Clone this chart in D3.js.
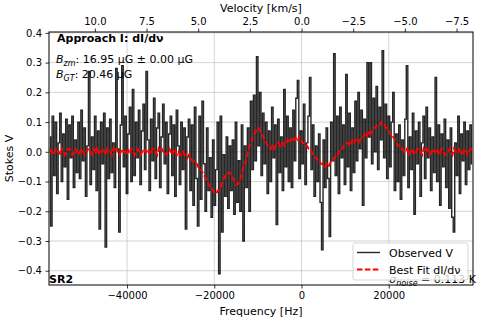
<!DOCTYPE html>
<html>
<head>
<meta charset="utf-8">
<script src="https://cdn.jsdelivr.net/npm/d3@7"></script>
<style>
body{margin:0;background:#fff;}
text{font-family:"DejaVu Sans",sans-serif;}
</style>
</head>
<body>
<div id="plot"></div>
<script>
//Set Height and Width Vars;
const w=479;
const h=320;
const margin={top:32,right:6,bottom:35,left:49};

//Channel Grid (Hz);
const freqStart=-57700;
const freqStep=347;

//Observed Stokes V per channel;
const obsV=[
 0.05,-0.25,0.12,-0.08,0.10,-0.14,0.03,0.13,-0.10,0.06,-0.05,0.11,-0.16,0.09,-0.02,0.12,-0.12,0.04,-0.07,0.10,
 -0.09,0.14,-0.03,0.08,-0.15,0.02,0.27,-0.11,0.05,-0.06,0.12,-0.13,0.07,-0.26,0.10,-0.04,0.13,-0.32,0.08,-0.09,
 0.11,-0.07,0.03,-0.12,0.28,0.01,-0.27,0.09,0.29,-0.05,0.12,-0.14,0.06,0.15,-0.10,0.21,-0.08,0.10,-0.02,0.14,
 -0.11,0.07,0.16,-0.06,0.27,0.04,-0.13,0.11,-0.03,0.18,-0.09,0.08,0.13,-0.12,0.05,0.16,-0.04,0.10,-0.14,0.06,
 0.12,-0.08,0.09,-0.15,0.14,0.02,-0.11,0.10,-0.06,0.08,-0.26,0.05,0.11,-0.13,0.09,-0.18,0.15,-0.09,-0.25,0.12,
 -0.16,0.17,-0.04,-0.20,0.08,-0.13,-0.02,-0.22,0.04,-0.18,-0.06,0.10,-0.41,0.12,-0.27,-0.01,-0.15,0.05,-0.19,0.02,
 -0.13,0.04,-0.21,0.10,-0.17,-0.03,-0.20,0.09,-0.30,0.02,-0.12,0.08,-0.20,0.17,-0.06,0.19,-0.03,0.32,0.02,0.20,
 -0.08,0.13,-0.04,0.10,-0.14,0.07,-0.10,0.15,-0.02,0.09,-0.245,0.11,-0.07,0.05,-0.13,0.21,-0.05,0.12,-0.10,0.08,
 -0.12,0.14,-0.03,0.18,0.24,-0.09,0.07,-0.04,0.16,-0.11,0.03,0.12,0.25,-0.06,0.09,-0.15,0.02,-0.10,0.06,-0.17,
 -0.33,0.04,-0.12,0.08,-0.09,-0.285,0.10,-0.03,0.33,-0.08,0.12,-0.14,0.15,-0.02,0.09,-0.11,0.26,-0.05,0.13,-0.13,
 0.08,-0.07,0.17,-0.03,0.20,0.01,0.14,-0.18,0.11,-0.02,0.30,0.05,0.30,-0.04,0.18,0.00,0.22,-0.06,0.15,0.04,
 0.34,-0.02,0.16,-0.09,0.12,-0.05,0.10,0.20,-0.13,0.06,-0.10,0.09,-0.16,0.04,-0.08,0.11,0.29,-0.12,0.05,-0.06,
 0.13,-0.21,0.07,-0.04,0.10,-0.15,0.03,0.12,-0.09,0.15,-0.02,0.08,-0.13,0.05,-0.07,0.25,-0.10,0.09,-0.18,0.06,
 -0.05,0.11,-0.12,0.04,-0.19,0.08,-0.22,-0.27,0.03,-0.08,0.12,-0.14,0.06,-0.03,0.10,-0.11,0.07,-0.06,0.09,-0.04
];

//Best Fit dI/dv per channel;
const fitV=[
 0.01,0.00,-0.01,0.00,0.01,0.00,0.00,-0.01,0.01,0.00,-0.01,0.00,0.01,0.01,0.00,-0.01,0.00,0.01,0.00,-0.01,
 0.00,0.01,0.00,-0.01,0.00,0.01,0.00,0.00,-0.01,0.01,0.00,0.01,-0.01,0.00,0.00,0.01,0.00,-0.01,0.01,0.00,
 0.00,-0.01,0.01,0.00,0.01,0.00,-0.01,0.00,0.01,0.00,0.00,-0.01,0.01,0.00,0.01,0.00,-0.01,0.00,0.01,0.00,
 -0.01,0.00,0.01,0.00,0.00,0.01,-0.01,0.00,0.01,0.00,0.00,-0.01,0.01,0.00,0.01,0.00,0.00,-0.01,0.00,0.01,
 0.00,-0.01,0.01,0.00,-0.01,0.00,-0.01,-0.01,0.00,-0.01,-0.01,-0.02,-0.01,-0.02,-0.03,-0.03,-0.04,-0.04,-0.05,-0.06,
 -0.06,-0.07,-0.08,-0.09,-0.10,-0.11,-0.12,-0.12,-0.13,-0.14,-0.14,-0.13,-0.13,-0.12,-0.10,-0.09,-0.08,-0.08,-0.07,-0.07,
 -0.08,-0.09,-0.10,-0.11,-0.11,-0.10,-0.09,-0.07,-0.05,-0.04,-0.02,0.00,0.02,0.03,0.05,0.06,0.07,0.08,0.08,0.07,
 0.06,0.05,0.04,0.03,0.02,0.02,0.01,0.02,0.01,0.02,0.02,0.03,0.02,0.03,0.03,0.02,0.03,0.04,0.03,0.04,
 0.04,0.05,0.04,0.05,0.04,0.05,0.04,0.03,0.03,0.02,0.02,0.01,0.01,0.00,-0.01,-0.02,-0.02,-0.03,-0.03,-0.04,
 -0.04,-0.05,-0.05,-0.04,-0.05,-0.04,-0.03,-0.03,-0.02,-0.01,-0.01,0.00,0.01,0.01,0.02,0.02,0.03,0.03,0.02,0.03,
 0.04,0.03,0.04,0.04,0.03,0.04,0.05,0.05,0.06,0.05,0.06,0.07,0.06,0.07,0.08,0.08,0.09,0.09,0.09,0.10,
 0.09,0.09,0.08,0.08,0.07,0.06,0.05,0.05,0.04,0.03,0.02,0.02,0.01,0.01,0.00,0.00,0.01,-0.01,0.00,0.01,
 0.00,-0.01,0.00,0.01,0.00,0.00,-0.01,0.01,0.00,0.01,0.00,-0.01,0.00,0.01,0.00,0.00,0.01,-0.01,0.00,0.01,
 0.00,-0.01,0.00,0.00,0.01,0.00,-0.01,0.01,0.00,0.00,0.01,0.00,-0.01,0.00,0.01,0.00,-0.01,0.00,0.01,0.00
];

//Axis Limits and Ticks;
const freqDomain=[-57890,39310];
const vDomain=[-0.448,0.403];
const yTicks=[0.4,0.3,0.2,0.1,0.0,-0.1,-0.2,-0.3,-0.4];
const freqTicks=[-40000,-20000,0,20000];
const velTicks=[10,7.5,5,2.5,0,-2.5,-5,-7.5];

//HI rest frequency (Hz) and speed of light (km/s);
const restFreq=1420405751.77;
const cLight=299792.458;

//Text;
const titleText="Approach I: dI/dν";
const bzmText=": 16.95 μG ± 0.00 μG";
const bgtText=": 20.46 μG";
const regionText="SR2";
const noiseText=" = 0.113 K";
const legendLabels=["Observed V","Best Fit dI/dν"];

//Build Channel Data;
const obsData=obsV.map(function(v,i){return {f:freqStart+i*freqStep,v:v};});
const fitData=fitV.map(function(v,i){return {f:freqStart+i*freqStep,v:v};});

//Initialize SVG;
const svg=d3.select("#plot")
  .append("svg")
    .attr("width",w)
    .attr("height",h);

//Set Scales;
const xScale=d3.scaleLinear()
  .domain(freqDomain)
  .range([margin.left,w-margin.right]);

const velScale=d3.scaleLinear()
  .domain(freqDomain.map(function(f){return -f/restFreq*cLight;}))
  .range([margin.left,w-margin.right]);

const yScale=d3.scaleLinear()
  .domain(vDomain)
  .range([h-margin.bottom,margin.top]);

//Grid;
const grid=svg.append("g").attr("class","grid");
grid.selectAll(".gy")
  .data(yTicks)
  .enter()
  .append("line")
    .attr("x1",margin.left).attr("x2",w-margin.right)
    .attr("y1",function(d){return yScale(d);})
    .attr("y2",function(d){return yScale(d);})
    .attr("stroke","#b0b0b0").attr("stroke-opacity",0.55).attr("stroke-width",1);
grid.selectAll(".gx")
  .data(freqTicks)
  .enter()
  .append("line")
    .attr("y1",margin.top).attr("y2",h-margin.bottom)
    .attr("x1",function(d){return xScale(d);})
    .attr("x2",function(d){return xScale(d);})
    .attr("stroke","#b0b0b0").attr("stroke-opacity",0.55).attr("stroke-width",1);

//Clip;
svg.append("clipPath").attr("id","clip")
  .append("rect")
    .attr("x",margin.left).attr("y",margin.top)
    .attr("width",w-margin.left-margin.right)
    .attr("height",h-margin.top-margin.bottom);

//Observed Line;
const obsLine=d3.line()
  .x(function(d){return xScale(d.f);})
  .y(function(d){return yScale(d.v);})
  .curve(d3.curveStep);

svg.append("path")
  .datum(obsData)
  .attr("clip-path","url(#clip)")
  .attr("d",obsLine)
  .attr("fill","none")
  .attr("stroke","#000")
  .attr("stroke-opacity",0.85)
  .attr("stroke-width",1.4);

//Fit Line;
const fitLine=d3.line()
  .x(function(d){return xScale(d.f);})
  .y(function(d){return yScale(d.v);});

svg.append("path")
  .datum(fitData)
  .attr("clip-path","url(#clip)")
  .attr("d",fitLine)
  .attr("fill","none")
  .attr("stroke","#ff0000")
  .attr("stroke-width",2)
  .attr("stroke-dasharray","5.5,2.4");

//Axes;
const xAxis=d3.axisBottom(xScale)
  .tickValues(freqTicks)
  .tickFormat(d3.format("d"))
  .tickSizeInner(3.5).tickSizeOuter(0).tickPadding(3.5);
const topAxis=d3.axisTop(velScale)
  .tickValues(velTicks)
  .tickFormat(d3.format(".1f"))
  .tickSizeInner(3.5).tickSizeOuter(0).tickPadding(3.5);
const yAxis=d3.axisLeft(yScale)
  .tickValues(yTicks)
  .tickFormat(d3.format(".1f"))
  .tickSizeInner(3.5).tickSizeOuter(0).tickPadding(3.5);

svg.append("g")
  .attr("transform","translate(0,"+(h-margin.bottom)+")")
  .call(xAxis);
svg.append("g")
  .attr("transform","translate(0,"+margin.top+")")
  .call(topAxis);
svg.append("g")
  .attr("transform","translate("+margin.left+",0)")
  .call(yAxis);

svg.selectAll(".domain").remove();
svg.selectAll(".tick text")
  .attr("font-family","DejaVu Sans")
  .attr("font-size","10px")
  .attr("fill","#000");
svg.selectAll(".tick line").attr("stroke","#000").attr("stroke-width",0.8);

//Frame;
svg.append("rect")
  .attr("x",margin.left).attr("y",margin.top)
  .attr("width",w-margin.left-margin.right)
  .attr("height",h-margin.top-margin.bottom)
  .attr("fill","none")
  .attr("stroke","#000")
  .attr("stroke-width",1);

//Axis Labels;
svg.append("text")
  .attr("x",(margin.left+w-margin.right)/2)
  .attr("y",h-5)
  .attr("text-anchor","middle")
  .attr("font-size","11px")
  .text("Frequency [Hz]");
svg.append("text")
  .attr("x",(margin.left+w-margin.right)/2)
  .attr("y",12)
  .attr("text-anchor","middle")
  .attr("font-size","11px")
  .text("Velocity [km/s]");
svg.append("text")
  .attr("transform","translate(13,"+((margin.top+h-margin.bottom)/2)+") rotate(-90)")
  .attr("text-anchor","middle")
  .attr("font-size","11px")
  .text("Stokes V");

//Annotations;
svg.append("text")
  .attr("x",margin.left+8).attr("y",margin.top+10)
  .attr("font-size","11px").attr("font-weight","bold")
  .text(titleText);

function bField(y,sub,rest){
  const t=svg.append("text")
    .attr("x",margin.left+7).attr("y",y)
    .attr("font-size","11px");
  t.append("tspan").attr("font-style","italic").text("B");
  t.append("tspan").attr("font-style","italic").attr("font-size","8px").attr("dy",2.5).text(sub);
  t.append("tspan").attr("dy",-2.5).text(rest);
}
bField(63,"zm",bzmText);
bField(78,"GT",bgtText);

svg.append("text")
  .attr("x",margin.left).attr("y",h-margin.bottom-2)
  .attr("font-size","11px").attr("font-weight","bold")
  .text(regionText);

//Noise Text;
const nt=svg.append("text")
  .attr("x",w-3).attr("y",h-margin.bottom-2)
  .attr("text-anchor","end")
  .attr("font-size","11px");
nt.append("tspan").attr("font-style","italic").text("σ");
nt.append("tspan").attr("font-style","italic").attr("font-size","8px").attr("dy",2.5).text("noise");
nt.append("tspan").attr("dy",-2.5).text(noiseText);

//Legend;
const legend=svg.append("g").attr("transform","translate(353,243)");
legend.append("rect")
  .attr("width",115).attr("height",37).attr("rx",2)
  .attr("fill","#fff").attr("fill-opacity",0.8)
  .attr("stroke","#cccccc").attr("stroke-width",0.8);
legend.selectAll(".lg")
  .data(legendLabels)
  .enter()
  .append("line")
    .attr("x1",4).attr("x2",27)
    .attr("y1",function(d,i){return 9.5+i*17;})
    .attr("y2",function(d,i){return 9.5+i*17;})
    .attr("stroke",function(d,i){return i===0?"#000":"#ff0000";})
    .attr("stroke-opacity",function(d,i){return i===0?0.85:1;})
    .attr("stroke-width",function(d,i){return i===0?1.4:2;})
    .attr("stroke-dasharray",function(d,i){return i===0?null:"5.5,2.4";});
legend.selectAll("text")
  .data(legendLabels)
  .enter()
  .append("text")
    .attr("x",36)
    .attr("y",function(d,i){return 13.5+i*17;})
    .attr("font-size","11px")
    .text(function(d){return d;});
</script>
</body>
</html>
